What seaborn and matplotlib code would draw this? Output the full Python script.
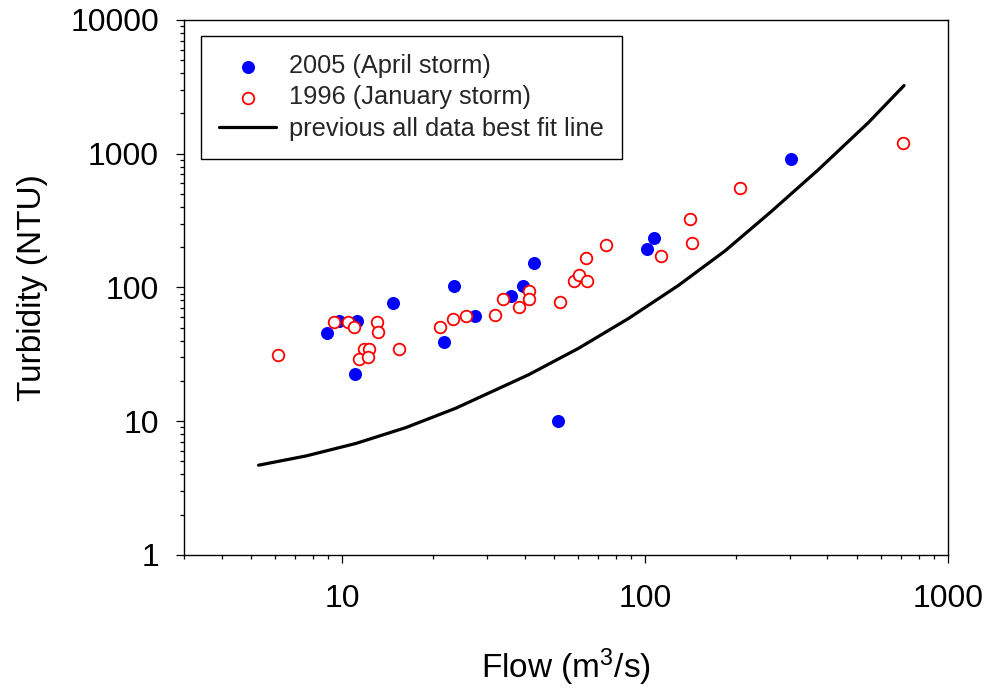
import matplotlib
matplotlib.use("Agg")
import matplotlib.pyplot as plt
import matplotlib.ticker as mticker
import seaborn as sns
import pandas as pd
import numpy as np

# 2005 (April storm)
flow_2005 = [8.88, 9.78, 11.15, 10.98, 14.69, 21.68, 23.38, 27.4, 36.1, 39.5, 43.0, 51.6, 101.6, 107.2, 302]
turb_2005 = [45.9, 56.5, 56.5, 22.4, 76.2, 39.3, 102, 60.9, 86.4, 102, 153, 10.0, 193, 234.5, 908]

# 1996 (January storm)
flow_1996 = [6.15, 9.41, 10.47, 10.93, 13.06, 13.15, 11.82, 12.28, 11.38, 12.18, 15.38,
             21.09, 23.2, 25.6, 31.9, 33.9, 38.3, 41.2, 41.2, 52.2, 58.4, 60.4, 64.3,
             63.8, 74.3, 112.7, 140.2, 142.3, 206.4, 712.3]
turb_1996 = [31.4, 54.9, 54.9, 50.9, 54.9, 46.2, 34.7, 34.7, 29.2, 30.4, 34.5,
             50.9, 58.1, 61.2, 62.3, 82.0, 71.1, 94.6, 82.0, 77.5, 112.4, 123.4, 111.3,
             167, 206.9, 171, 326.8, 216.3, 554.6, 1202]

# previous all data best fit line
fit_flow = [5.29, 7.59, 11.09, 16.21, 23.70, 41.33, 60.4, 88.2, 128.9, 183.8, 258.5, 373.0, 545, 716]
fit_turb = [4.69, 5.50, 6.82, 8.96, 12.51, 22.32, 35.18, 58.70, 103.7, 188.1, 363.1, 758.6, 1702, 3233]

x_ticks = [10, 100, 1000]
y_ticks = [1, 10, 100, 1000, 10000]

sns.set_theme(style="white")
plt.rcParams['font.family'] = ['Liberation Sans', 'DejaVu Sans']
plt.rcParams['mathtext.fontset'] = 'custom'
plt.rcParams['mathtext.rm'] = 'Liberation Sans'
plt.rcParams['mathtext.it'] = 'Liberation Sans:italic'

fig = plt.figure(figsize=(9.94, 6.9), dpi=100)
ax = fig.add_axes([0.1851, 0.1957, 0.7686, 0.7754])

df_fit = pd.DataFrame({"flow": fit_flow, "turb": fit_turb})
df05 = pd.DataFrame({"flow": flow_2005, "turb": turb_2005})
df96 = pd.DataFrame({"flow": flow_1996, "turb": turb_1996})

sns.lineplot(data=df_fit, x="flow", y="turb", ax=ax, color="black", linewidth=2.3,
             label="previous all data best fit line", sort=True, estimator=None, zorder=2)
for ln in ax.get_lines():
    ln.set_solid_joinstyle("round")
    ln.set_solid_capstyle("round")
sns.scatterplot(data=df05, x="flow", y="turb", ax=ax, color="#0000FF", s=88,
                linewidth=0, label="2005 (April storm)", zorder=3)
sns.scatterplot(data=df96, x="flow", y="turb", ax=ax, color="#FF0000", s=70,
                facecolors="white", edgecolors="#FF0000", linewidth=1.3,
                label="1996 (January storm)", zorder=4)

ax.set_xscale("log")
ax.set_yscale("log")
ax.set_xlim(3, 1000)
ax.set_ylim(1, 10000)

ax.xaxis.set_major_locator(mticker.FixedLocator(x_ticks))
ax.yaxis.set_major_locator(mticker.FixedLocator(y_ticks))
ax.xaxis.set_minor_locator(mticker.LogLocator(base=10, subs=np.arange(2, 10)))
ax.yaxis.set_minor_locator(mticker.LogLocator(base=10, subs=np.arange(2, 10)))
ax.xaxis.set_major_formatter(mticker.FixedFormatter([str(v) for v in x_ticks]))
ax.yaxis.set_major_formatter(mticker.FixedFormatter([str(v) for v in y_ticks]))
ax.xaxis.set_minor_formatter(mticker.NullFormatter())
ax.yaxis.set_minor_formatter(mticker.NullFormatter())

ax.tick_params(which="major", direction="out", length=6, width=0.9, color="black",
               labelsize=23, labelcolor="black")
ax.tick_params(which="minor", direction="out", length=3, width=0.9, color="black")
ax.tick_params(axis="x", which="major", pad=15, bottom=True, top=False)
ax.tick_params(axis="x", which="minor", bottom=True, top=False)
ax.tick_params(axis="y", which="major", pad=12, left=True, right=False)
ax.tick_params(axis="y", which="minor", left=True, right=False)

for sp in ax.spines.values():
    sp.set_color("black")
    sp.set_linewidth(1.0)
    sp.set_visible(True)

ax.set_xlabel("Flow (m$^{3}$/s)", fontsize=24, color="black", labelpad=23)
ax.set_ylabel("Turbidity (NTU)", fontsize=24, color="black", labelpad=16)

handles, labels = ax.get_legend_handles_labels()
order = [labels.index("2005 (April storm)"), labels.index("1996 (January storm)"),
         labels.index("previous all data best fit line")]
leg = ax.legend([handles[i] for i in order], [labels[i] for i in order],
                loc="upper left", bbox_to_anchor=(0.0219, 0.970), borderaxespad=0,
                fontsize=18.3, frameon=True, fancybox=False, framealpha=1,
                edgecolor="black", handlelength=2.25, handletextpad=0.5,
                labelspacing=0.28, borderpad=0.72, scatterpoints=1)
leg.get_frame().set_linewidth(1.0)

fig.savefig("out.png", dpi=100, facecolor="white")
